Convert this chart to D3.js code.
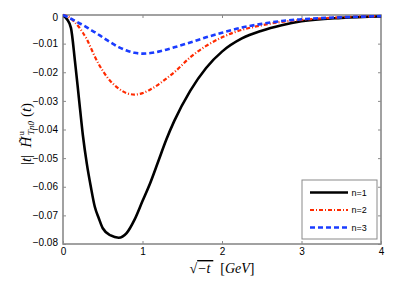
<!DOCTYPE html>
<html><head><meta charset="utf-8">
<script src="https://cdn.jsdelivr.net/npm/d3@7/dist/d3.min.js"></script>
<style>body{margin:0;background:#fff}svg{display:block}</style>
</head><body>
<svg id="c" width="409" height="281"></svg>
<script>
const xs = [0,0.05,0.1,0.15,0.2,0.25,0.3,0.35,0.4,0.45,0.5,0.6,0.7,0.8,0.9,1.0,1.1,1.2,1.3,1.4,1.6,1.8,2.0,2.25,2.5,2.75,3.0,3.5,4.0];
const n1 = [0,-0.0015,-0.0045,-0.016,-0.029,-0.042,-0.052,-0.060,-0.067,-0.071,-0.0745,-0.077,-0.0778,-0.0762,-0.0715,-0.065,-0.0585,-0.051,-0.0435,-0.037,-0.0265,-0.0185,-0.0128,-0.0082,-0.0055,-0.0036,-0.0022,-0.001,-0.0005];
const n2 = [0,-0.0004,-0.0012,-0.0026,-0.0042,-0.0062,-0.0085,-0.0115,-0.0145,-0.0172,-0.0195,-0.0232,-0.0257,-0.0273,-0.0278,-0.0273,-0.026,-0.0243,-0.0222,-0.0200,-0.0148,-0.0108,-0.0078,-0.0052,-0.0036,-0.0024,-0.0017,-0.0008,-0.0004];
const n3 = [0,-0.0006,-0.0013,-0.002,-0.0028,-0.0035,-0.0043,-0.0052,-0.006,-0.0069,-0.0078,-0.0096,-0.0112,-0.0124,-0.0132,-0.0135,-0.0133,-0.0128,-0.0121,-0.0113,-0.0096,-0.0078,-0.0062,-0.0044,-0.0031,-0.0021,-0.0015,-0.0008,-0.0004];
const series = [
  {name:"n=1", vals:n1, color:"#000000", width:2.6, dash:null},
  {name:"n=2", vals:n2, color:"#ff2a00", width:2.2, dash:"4,2,1,2"},
  {name:"n=3", vals:n3, color:"#1a3cff", width:2.6, dash:"5,3"}
];
const xTicks = [0,1,2,3,4];
const yTicks = [0,-0.01,-0.02,-0.03,-0.04,-0.05,-0.06,-0.07,-0.08];

const svg = d3.select("#c");
const L=63, R=381, T=15, B=244;
const x = d3.scaleLinear().domain([0,4]).range([L,R]);
const y = d3.scaleLinear().domain([-0.08,0]).range([B,T]);
const font = "'Liberation Sans', Arial, sans-serif";
const serif = "'Liberation Serif','DejaVu Serif',serif";
const axisColor = "#8a8a8a";

const line = d3.line().x((d,i)=>x(xs[i])).y(d=>y(d)).curve(d3.curveMonotoneX);
svg.append("defs").append("clipPath").attr("id","cp").append("rect")
  .attr("x",L).attr("y",T-2).attr("width",R-L).attr("height",B-T+2);

// frame
svg.append("rect").attr("x",L).attr("y",T).attr("width",R-L).attr("height",B-T)
  .attr("fill","none").attr("stroke",axisColor).attr("stroke-width",1.6);

// ticks (inward)
const gb = svg.append("g").attr("transform",`translate(0,${B})`)
  .call(d3.axisBottom(x).tickValues(xTicks).tickSizeInner(-3).tickSizeOuter(0).tickPadding(6).tickFormat(d3.format("d")));
const gt = svg.append("g").attr("transform",`translate(0,${T})`)
  .call(d3.axisTop(x).tickValues(xTicks).tickSizeInner(-3).tickSizeOuter(0).tickFormat(""));
const gl = svg.append("g").attr("transform",`translate(${L},0)`)
  .call(d3.axisLeft(y).tickValues(yTicks).tickSizeInner(-3).tickSizeOuter(0).tickPadding(5)
    .tickFormat(d=> d===0 ? "0" : "\u2212" + d3.format(".2f")(-d)));
const gr = svg.append("g").attr("transform",`translate(${R},0)`)
  .call(d3.axisRight(y).tickValues(yTicks).tickSizeInner(-3).tickSizeOuter(0).tickFormat(""));
[gb,gt,gl,gr].forEach(g=>{
  g.select(".domain").remove();
  g.selectAll(".tick line").attr("stroke",axisColor);
  g.selectAll("text").attr("font-family",font).attr("font-size",10).attr("fill","#000");
});
gb.selectAll("text").attr("dy","0.5em");
gl.selectAll(".tick").filter(d=>d===-0.08).select("text").attr("dy","0.1em");
gl.selectAll(".tick").filter(d=>d===0).select("text").attr("dy","0.5em");

const gc = svg.append("g").attr("clip-path","url(#cp)");
series.forEach(s=>{
  gc.append("path").datum(s.vals).attr("d",line).attr("fill","none")
    .attr("stroke",s.color).attr("stroke-width",s.width)
    .attr("stroke-dasharray",s.dash).attr("stroke-linejoin","round");
});

// legend
const lg = svg.append("g");
lg.append("rect").attr("x",302).attr("y",180).attr("width",75).attr("height",59)
  .attr("fill","#fff").attr("stroke",axisColor).attr("stroke-width",1);
series.forEach((s,i)=>{
  const yy = 192.5 + i*17.5;
  lg.append("line").attr("x1",310).attr("x2",348).attr("y1",yy).attr("y2",yy)
    .attr("stroke",s.color).attr("stroke-width",s.width).attr("stroke-dasharray",s.dash);
  lg.append("text").attr("x",351.5).attr("y",yy).attr("dy","0.35em")
    .attr("font-family",font).attr("font-size",9).text(s.name);
});

// x label
const xt = svg.append("text").attr("x",222).attr("y",273).attr("text-anchor","middle")
  .attr("font-family",serif).attr("font-size",14);
xt.append("tspan").text("\u221A");
xt.append("tspan").attr("font-style","italic").attr("text-decoration","overline").text("\u2212t\u2009");
xt.append("tspan").attr("dx",7).text("[");
xt.append("tspan").attr("font-style","italic").text("GeV");
xt.append("tspan").text("]");

// y label
const yl = svg.append("text").attr("transform","translate(31,134) rotate(-90)")
  .attr("text-anchor","middle").attr("font-family",serif).attr("font-size",15);
yl.append("tspan").text("|");
yl.append("tspan").attr("font-style","italic").text("t");
yl.append("tspan").text("|\u2002");
yl.append("tspan").attr("font-style","italic").text("H\u0303");
yl.append("tspan").attr("font-size",9).attr("dy",-7).attr("dx",1).text("u");
yl.append("tspan").attr("font-size",9).attr("font-style","italic").attr("dx",-4).attr("dy",10).text("Tn0");
yl.append("tspan").attr("dy",-3).attr("dx",4).text("(");
yl.append("tspan").attr("font-style","italic").text("t");
yl.append("tspan").text(")");
</script>
</body></html>
